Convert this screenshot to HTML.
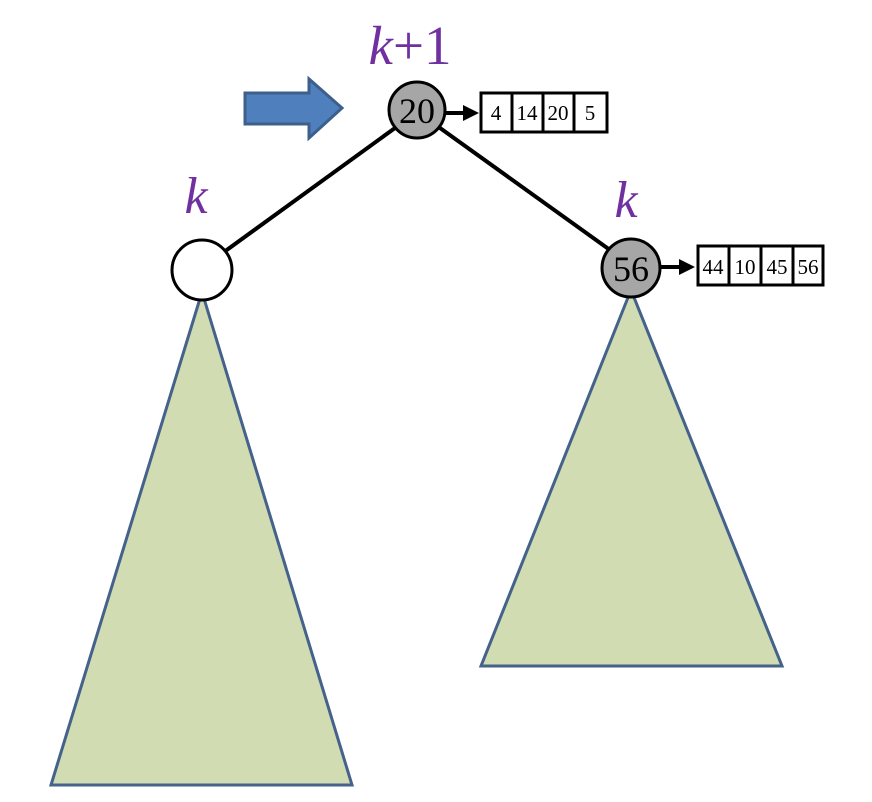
<!DOCTYPE html>
<html><head><meta charset="utf-8"><style>body{margin:0;background:#fff}svg{display:block}</style></head>
<body>
<svg width="872" height="802" viewBox="0 0 872 802" font-family="'Liberation Serif', serif">
<polygon points="202,292 51,785 352,785" fill="#d1dcb3" stroke="#44628a" stroke-width="3"/>
<polygon points="631,290 481,666 782,666" fill="#d1dcb3" stroke="#44628a" stroke-width="3"/>
<line x1="395" y1="128" x2="224" y2="252" stroke="#000" stroke-width="4"/>
<line x1="440" y1="128" x2="610" y2="250" stroke="#000" stroke-width="4"/>
<polygon points="245,93 309,93 309,79 342,108 309,138 309,124 245,124" fill="#4f7fbd" stroke="#3c5f8c" stroke-width="3"/>
<text x="410" y="64" font-size="55" fill="#7030a0" text-anchor="middle"><tspan font-style="italic">k</tspan>+1</text>
<text x="196" y="213" font-size="52" font-style="italic" fill="#7030a0" text-anchor="middle">k</text>
<text x="626" y="217" font-size="52" font-style="italic" fill="#7030a0" text-anchor="middle">k</text>
<circle cx="417" cy="110" r="28" fill="#a6a6a6" stroke="#000" stroke-width="3"/>
<text x="417" y="123" font-size="36" text-anchor="middle">20</text>
<circle cx="202" cy="270" r="30" fill="#fff" stroke="#000" stroke-width="3"/>
<circle cx="631" cy="268" r="29" fill="#a6a6a6" stroke="#000" stroke-width="3"/>
<text x="631" y="281" font-size="36" text-anchor="middle">56</text>
<line x1="445" y1="113" x2="466" y2="113" stroke="#000" stroke-width="4"/>
<polygon points="463,105 479,113 463,121" fill="#000"/>
<line x1="660" y1="267" x2="681" y2="267" stroke="#000" stroke-width="4"/>
<polygon points="679,259 695,267 679,275" fill="#000"/>
<g stroke="#000" stroke-width="3" fill="#fff">
<rect x="481" y="93" width="31" height="39"/><rect x="512" y="93" width="31" height="39"/><rect x="543" y="93" width="31" height="39"/><rect x="574" y="93" width="33" height="39"/>
</g>
<g font-size="21" text-anchor="middle">
<text x="496" y="120">4</text><text x="527" y="120">14</text><text x="558" y="120">20</text><text x="590" y="120">5</text>
</g>
<g stroke="#000" stroke-width="3" fill="#fff">
<rect x="698" y="246" width="31" height="39"/><rect x="729" y="246" width="32" height="39"/><rect x="761" y="246" width="32" height="39"/><rect x="793" y="246" width="30" height="39"/>
</g>
<g font-size="21" text-anchor="middle">
<text x="713" y="274">44</text><text x="745" y="274">10</text><text x="777" y="274">45</text><text x="808" y="274">56</text>
</g>
</svg>
</body></html>
